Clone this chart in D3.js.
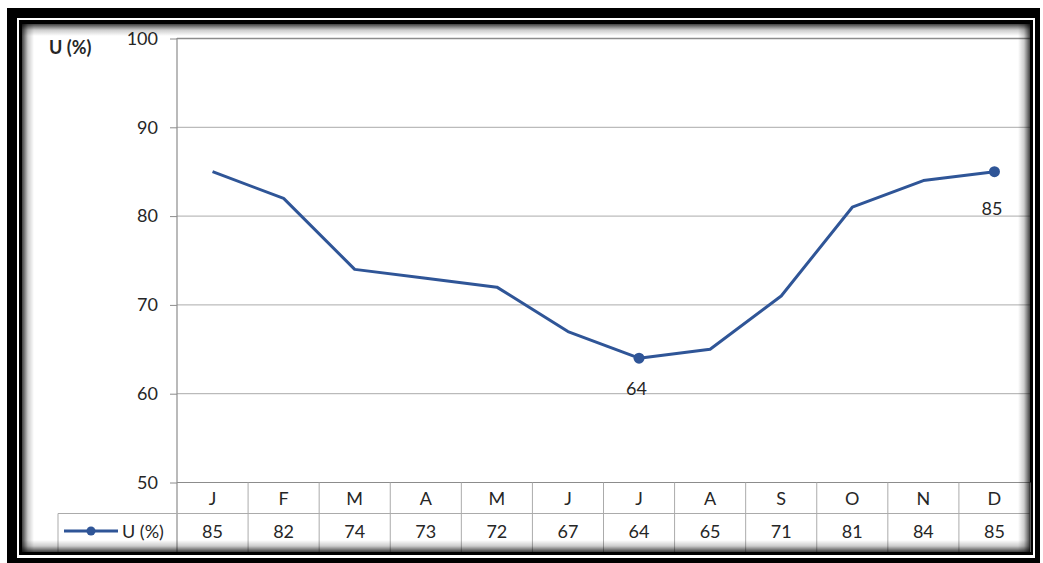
<!DOCTYPE html>
<html><head><meta charset="utf-8">
<script src="https://cdn.jsdelivr.net/npm/d3@7"></script>
<style>html,body{margin:0;padding:0;background:#fff;}svg{display:block;}</style>
</head><body>
<svg id="c" width="1043" height="563"></svg>
<script>
const months = ["J","F","M","A","M","J","J","A","S","O","N","D"];
const values = [85,82,74,73,72,67,64,65,71,81,84,85];
const yTicks = [50,60,70,80,90,100];
const labeledIdx = [6,11];
const seriesName = "U (%)";

const svg = d3.select("#c");
const font = "Lato, 'Open Sans', sans-serif";
const txt = "#262626";
const fs = 18;

// frame
svg.append("rect").attr("x",7).attr("y",8).attr("width",1033).attr("height",560).attr("fill","#000");
svg.append("rect").attr("x",17).attr("y",18).attr("width",1018).attr("height",540).attr("fill","#fff");
svg.append("rect").attr("x",19).attr("y",20).attr("width",1014).attr("height",535).attr("fill","#000");
svg.append("rect").attr("x",22).attr("y",24).attr("width",1008).attr("height",528).attr("fill","#fff");

const defs = svg.append("defs");
function grad(id,x1,y1,x2,y2){
  const g = defs.append("linearGradient").attr("id",id).attr("x1",x1).attr("y1",y1).attr("x2",x2).attr("y2",y2);
  g.append("stop").attr("offset","0").attr("stop-color","#000").attr("stop-opacity",0.75);
  g.append("stop").attr("offset","0.5").attr("stop-color","#000").attr("stop-opacity",0.2);
  g.append("stop").attr("offset","1").attr("stop-color","#000").attr("stop-opacity",0);
}
grad("gl",0,0,1,0); grad("gr",1,0,0,0); grad("gt",0,0,0,1); grad("gb",0,1,0,0);

const x = d3.scaleBand().domain(d3.range(months.length)).range([177,1030]);
const y = d3.scaleLinear().domain([50,100]).range([482.5,38.5]);

const g = svg.append("g");
// gridlines
g.selectAll(".grid").data(yTicks.filter(t=>t>50)).join("line")
  .attr("x1",177).attr("x2",1030).attr("y1",d=>y(d)).attr("y2",d=>y(d))
  .attr("stroke",d=>d===100?"#8c8c8c":"#ababab").attr("stroke-width",d=>d===100?1.5:1);

// y axis
const yAxis = d3.axisLeft(y).tickValues(yTicks).tickSize(7).tickPadding(12);
const ya = g.append("g").attr("transform","translate(177,0)").call(yAxis);
ya.select(".domain").remove();
ya.selectAll(".tick line").attr("stroke","#8c8c8c");
ya.selectAll(".tick text").attr("font-family",font).attr("font-size",fs).attr("fill",txt);
g.append("line").attr("x1",177).attr("x2",177).attr("y1",38).attr("y2",552).attr("stroke","#8c8c8c").attr("stroke-width",1.2);
g.append("line").attr("x1",177).attr("x2",1030).attr("y1",y(50)).attr("y2",y(50)).attr("stroke","#8c8c8c").attr("stroke-width",1.2);

// axis title
svg.append("text").attr("x",49).attr("y",54).attr("font-family",font).attr("font-weight","bold")
  .attr("font-size",18).attr("fill",txt).text(seriesName);

// data table
const rowTop = 482.5, rowMid = 513.5, rowBot = 552;
g.selectAll(".vcol").data(d3.range(1,months.length+1)).join("line")
  .attr("x1",i=>x(i)||x.range()[1]).attr("x2",i=>x(i)||x.range()[1])
  .attr("y1",rowTop).attr("y2",rowBot).attr("stroke","#ababab");
g.append("line").attr("x1",58).attr("x2",1030).attr("y1",rowMid).attr("y2",rowMid).attr("stroke","#ababab");
g.append("line").attr("x1",58).attr("x2",58).attr("y1",rowMid).attr("y2",rowBot).attr("stroke","#ababab");

g.selectAll(".cat").data(months).join("text")
  .attr("x",(d,i)=>x(i)+x.bandwidth()/2).attr("y",505).attr("text-anchor","middle")
  .attr("font-family",font).attr("font-size",fs).attr("fill",txt).text(d=>d);
g.selectAll(".val").data(values).join("text")
  .attr("x",(d,i)=>x(i)+x.bandwidth()/2).attr("y",538).attr("text-anchor","middle")
  .attr("font-family",font).attr("font-size",fs).attr("fill",txt).text(d=>d);

const blue = "#2f5597";
// legend key
g.append("line").attr("x1",64).attr("x2",118).attr("y1",531).attr("y2",531).attr("stroke",blue).attr("stroke-width",3);
g.append("circle").attr("cx",91).attr("cy",531).attr("r",4.5).attr("fill",blue);
g.append("text").attr("x",122).attr("y",538).attr("font-family",font).attr("font-size",fs).attr("fill",txt).text(seriesName);

// line
const line = d3.line().x((d,i)=>x(i)+x.bandwidth()/2).y(d=>y(d));
g.append("path").datum(values).attr("d",line).attr("fill","none").attr("stroke",blue)
  .attr("stroke-width",3).attr("stroke-linejoin","round");
g.selectAll(".mk").data(labeledIdx).join("circle")
  .attr("cx",i=>x(i)+x.bandwidth()/2).attr("cy",i=>y(values[i])).attr("r",5.5).attr("fill",blue);
g.selectAll(".dl").data(labeledIdx).join("text")
  .attr("x",i=>x(i)+x.bandwidth()/2-2.5).attr("y",(i,k)=>y(values[i])+(k===0?37:43)).attr("text-anchor","middle")
  .attr("font-family",font).attr("font-size",fs).attr("fill",txt).text(i=>values[i]);

// inner shadows
const sh = svg.append("g");
sh.append("rect").attr("x",22).attr("y",24).attr("width",12).attr("height",528).attr("fill","url(#gl)");
sh.append("rect").attr("x",1018).attr("y",24).attr("width",12).attr("height",528).attr("fill","url(#gr)");
sh.append("rect").attr("x",22).attr("y",24).attr("width",1008).attr("height",12).attr("fill","url(#gt)");
sh.append("rect").attr("x",22).attr("y",540).attr("width",1008).attr("height",12).attr("fill","url(#gb)");
</script>
</body></html>
